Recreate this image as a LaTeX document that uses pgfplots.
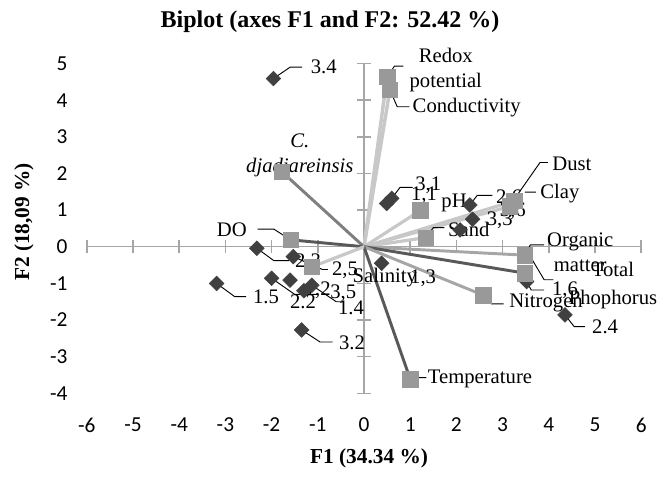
\documentclass[border=0pt]{standalone}
\usepackage{pgfplots}
\pgfplotsset{compat=1.18}
\usepackage{fontspec}
\setmainfont{Liberation Serif}
\newfontfamily\calibri{Carlito}

\definecolor{axisgray}{HTML}{A6A6A6}
\definecolor{obs}{HTML}{404040}
\definecolor{varsq}{HTML}{999999}
\definecolor{vlight}{HTML}{C8C8C8}
\definecolor{vmid}{HTML}{A6A6A6}
\definecolor{vdark}{HTML}{595959}
\definecolor{vcdj}{HTML}{7F7F7F}

\tikzset{lab/.style={font=\fontsize{15.5}{18.5}\selectfont, inner sep=1pt}}

\begin{document}
\begin{tikzpicture}
\pgfplotsset{
  common/.style={
    scale only axis, width=415.8pt, height=247.35pt,
    xmin=-6, xmax=6, ymin=-4, ymax=5,
    enlargelimits=false, clip=false,
    xtick={-6,...,6}, ytick={-4,...,5},
  }
}
% zero axis lines with crossing ticks
\begin{axis}[common,
  axis lines=middle,
  axis line style={-, axisgray, line width=1.1pt},
  tick style={axisgray, line width=1.1pt},
  tick align=center, major tick length=10pt,
  hide obscured x ticks=false, hide obscured y ticks=false,
  xticklabels={}, yticklabels={},
]
\end{axis}
% data, labels
\begin{axis}[common,
  axis line style={draw=none},
  major tick length=0pt,
  xticklabels={-6,-5,-4,-3,-2,-1,0,1,2,3,4,5,6},
  yticklabels={-4,-3,-2,-1,0,1,2,3,4,5},
  ticklabel style={font=\calibri\fontsize{16}{19}\selectfont},
  yticklabel style={xshift=-11pt},
  xticklabel style={yshift=-15pt},
]
% variable vectors
\addplot[vlight, line width=2.6pt] coordinates {(0,0) (0.50,4.64)};
\addplot[vlight, line width=2.6pt] coordinates {(0,0) (0.56,4.28)};
\addplot[vcdj, line width=2.2pt] coordinates {(0,0) (-1.78,2.05)};
\addplot[vdark, line width=2.2pt] coordinates {(0,0) (-1.59,0.19)};
\addplot[vlight, line width=2.4pt] coordinates {(0,0) (3.25,1.25)};
\addplot[vlight, line width=2.4pt] coordinates {(0,0) (3.15,1.10)};
\addplot[vlight, line width=2.4pt] coordinates {(0,0) (1.22,0.99)};
\addplot[vlight, line width=2.4pt] coordinates {(0,0) (1.34,0.25)};
\addplot[vmid, line width=2.2pt] coordinates {(0,0) (3.48,-0.23)};
\addplot[vdark, line width=2.2pt] coordinates {(0,0) (3.48,-0.72)};
\addplot[vmid, line width=2.2pt] coordinates {(0,0) (2.58,-1.32)};
\addplot[vdark, line width=2.2pt] coordinates {(0,0) (1.00,-3.61)};
\addplot[vlight, line width=2.4pt] coordinates {(0,0) (-1.13,-0.55)};

% observations
\addplot[only marks, mark=square*, mark size=3.9pt,
  mark options={rotate=45, fill=obs, draw=obs}] coordinates {
  (-1.96,4.59) (0.60,1.32) (0.49,1.18) (2.29,1.14) (2.08,0.46) (2.35,0.75)
  (3.52,-0.95) (4.35,-1.86) (-2.32,-0.04) (-1.53,-0.27) (-3.19,-1.00)
  (-2.00,-0.86) (-1.60,-0.91) (-1.13,-1.05) (-1.30,-1.20) (-1.35,-2.27)
  (0.38,-0.45)
};

% variables
\addplot[only marks, mark=square*, mark size=5.8pt,
  mark options={fill=varsq, draw=varsq}] coordinates {
  (0.50,4.64) (0.56,4.28) (-1.78,2.05) (-1.59,0.19) (3.25,1.25) (3.15,1.10)
  (1.22,0.99) (1.34,0.25) (3.48,-0.23) (3.48,-0.72) (2.58,-1.32)
  (1.00,-3.61) (-1.13,-0.55)
};

% leader lines
\draw[black, line width=0.7pt]
  (axis cs:-1.96,4.59) -- (axis cs:-1.60,4.90) -- (axis cs:-1.34,4.90)
  (axis cs:0.50,4.64) -- (axis cs:0.66,4.93) -- (axis cs:0.85,4.93)
  (axis cs:0.56,4.28) -- (axis cs:0.72,3.82) -- (axis cs:0.98,3.82)
  (axis cs:-1.59,0.19) -- (axis cs:-1.95,0.48) -- (axis cs:-2.30,0.48)
  (axis cs:3.20,1.20) -- (axis cs:3.81,2.30) -- (axis cs:3.98,2.30)
  (axis cs:3.48,1.49) -- (axis cs:3.72,1.49)
  (axis cs:1.34,0.25) -- (axis cs:1.50,0.52) -- (axis cs:1.74,0.52)
  (axis cs:3.48,-0.23) -- (axis cs:3.60,0.05) -- (axis cs:3.90,0.05)
  (axis cs:3.52,-0.10) -- (axis cs:3.90,-0.90) -- (axis cs:4.10,-0.90)
  (axis cs:2.58,-1.32) -- (axis cs:2.76,-1.56) -- (axis cs:3.02,-1.56)
  (axis cs:1.00,-3.61) -- (axis cs:1.15,-3.57) -- (axis cs:1.35,-3.57)
  (axis cs:0.60,1.32) -- (axis cs:0.78,1.62) -- (axis cs:1.05,1.62)
  (axis cs:2.29,1.14) -- (axis cs:2.45,1.40) -- (axis cs:2.78,1.40)
  (axis cs:3.52,-0.95) -- (axis cs:3.62,-1.18) -- (axis cs:3.90,-1.18)
  (axis cs:4.35,-1.86) -- (axis cs:4.55,-2.18) -- (axis cs:4.78,-2.18)
  (axis cs:-2.32,-0.04) -- (axis cs:-1.95,-0.38) -- (axis cs:-1.62,-0.38)
  (axis cs:-1.53,-0.27) -- (axis cs:-0.90,-0.62) -- (axis cs:-0.78,-0.62)
  (axis cs:-3.19,-1.00) -- (axis cs:-2.80,-1.36) -- (axis cs:-2.55,-1.36)
  (axis cs:-2.00,-0.86) -- (axis cs:-1.50,-1.30) -- (axis cs:-1.00,-1.30)
  (axis cs:-1.13,-1.05) -- (axis cs:-0.60,-1.50) -- (axis cs:-0.45,-1.50)
  (axis cs:-1.35,-2.27) -- (axis cs:-0.95,-2.60) -- (axis cs:-0.68,-2.60);

% variable labels
\node[lab, align=center] at (axis cs:1.77,4.82) {Redox\\potential};
\node[lab, anchor=west] at (axis cs:1.02,3.80) {Conductivity};
\node[lab, align=center, font=\fontsize{15.5}{18.5}\selectfont\itshape] at (axis cs:-1.39,2.50) {C.\\djadjareinsis};
\node[lab] at (axis cs:-2.86,0.46) {DO};
\node[lab] at (axis cs:4.50,2.25) {Dust};
\node[lab] at (axis cs:4.24,1.46) {Clay};
\node[lab] at (axis cs:1.95,1.19) {pH};
\node[lab] at (axis cs:2.27,0.46) {Sand};
\node[lab, align=center] at (axis cs:4.68,-0.15) {Organic\\matter};
\node[lab, align=center, font=\fontsize{15.5}{21}\selectfont] at (axis cs:5.39,-1.05) {Total\\Phophorus};
\node[lab] at (axis cs:3.94,-1.54) {Nitrogen};
\node[lab] at (axis cs:2.51,-3.62) {Temperature};
\node[lab] at (axis cs:0.45,-0.85) {Salinity};

% observation labels
\node[lab] at (axis cs:-0.87,4.90) {3.4};
\node[lab] at (axis cs:1.39,1.68) {3,1};
\node[lab] at (axis cs:1.30,1.41) {1,1};
\node[lab] at (axis cs:3.14,1.33) {2,6};
\node[lab] at (axis cs:3.22,0.98) {3,6};
\node[lab] at (axis cs:2.94,0.73) {3,3};
\node[lab] at (axis cs:4.35,-1.18) {1,6};
\node[lab] at (axis cs:5.22,-2.19) {2.4};
\node[lab] at (axis cs:-1.21,-0.41) {2,3};
\node[lab] at (axis cs:-0.41,-0.64) {2,5};
\node[lab] at (axis cs:-2.12,-1.36) {1.5};
\node[lab] at (axis cs:-1.32,-1.50) {2.2};
\node[lab] at (axis cs:-1.00,-1.18) {1,2};
\node[lab] at (axis cs:-0.45,-1.26) {3,5};
\node[lab] at (axis cs:-0.28,-1.67) {1.4};
\node[lab] at (axis cs:-0.26,-2.63) {3.2};
\node[lab] at (axis cs:1.28,-0.85) {1,3};
\end{axis}

% title and axis titles
\node[font=\bfseries\fontsize{18}{21}\selectfont] at (182.4pt,278.5pt) {Biplot (axes F1 and F2: 52.42 \%)};
\node[font=\bfseries\fontsize{16}{19}\selectfont] at (211.7pt,-48.5pt) {F1 (34.34 \%)};
\node[font=\bfseries\fontsize{16}{19}\selectfont, rotate=90] at (-47.1pt,128.5pt) {F2 (18,09 \%)};
\path[use as bounding box] (-65.1pt,-63.5pt) rectangle (429.9pt,295pt);
\end{tikzpicture}
\end{document}
